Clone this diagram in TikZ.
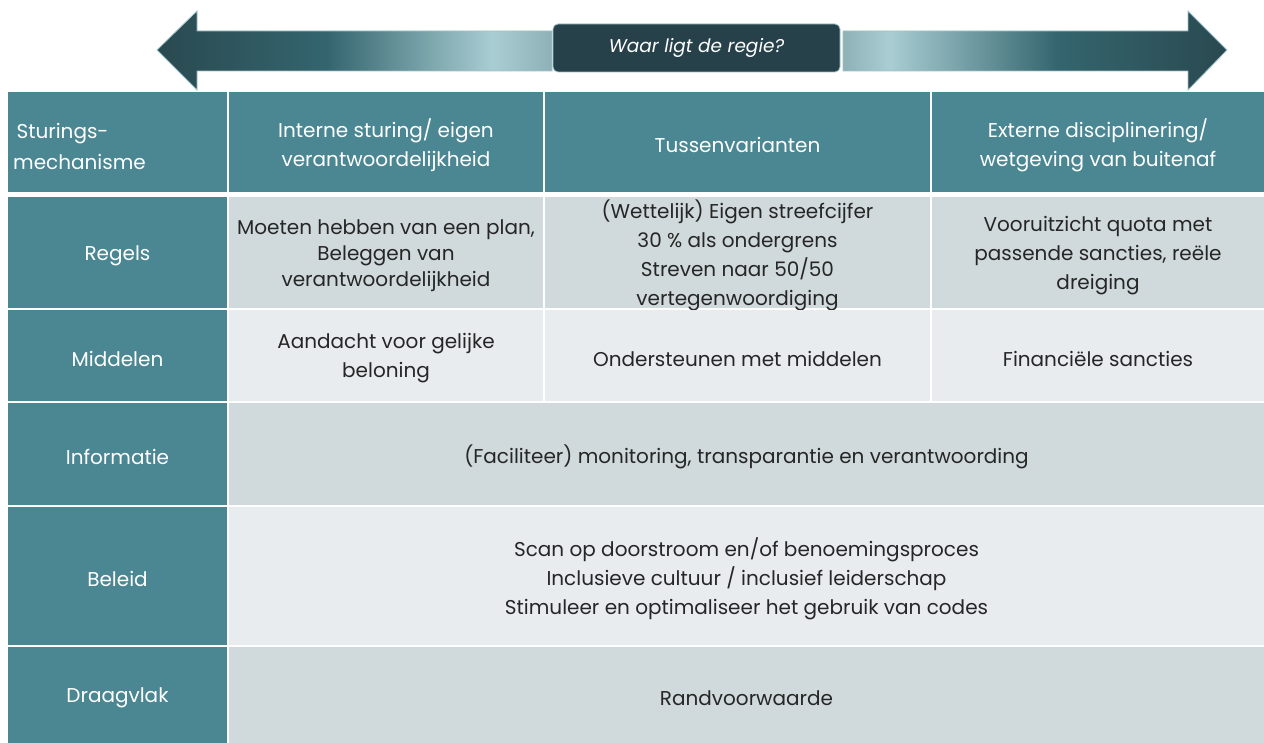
\documentclass[tikz,border=0pt]{standalone}
\usepackage{fontspec}
\setmainfont{Poppins}
\definecolor{hdr}{HTML}{4B8693}
\definecolor{rowA}{HTML}{D0D9DC}
\definecolor{rowB}{HTML}{E8ECEE}
\definecolor{txt}{HTML}{262626}
\definecolor{boxc}{HTML}{27414B}
\definecolor{adark}{HTML}{2A4950}
\definecolor{amid}{HTML}{34656E}
\definecolor{alight}{HTML}{A9CDD3}
\definecolor{aedge}{HTML}{8DB1B7}
\definecolor{aline}{HTML}{9FC3C9}
\pgfdeclarehorizontalshading{arrL}{100bp}{color(0bp)=(adark); color(25bp)=(adark); color(46.5bp)=(amid); color(67.5bp)=(alight); color(75bp)=(aedge); color(100bp)=(aedge)}
\pgfdeclarehorizontalshading{arrR}{100bp}{color(0bp)=(aedge); color(25bp)=(aedge); color(31bp)=(alight); color(53bp)=(amid); color(75bp)=(adark); color(100bp)=(adark)}
\tikzset{
  cellbase/.style={anchor=north west, inner sep=0pt, outer sep=0pt},
  hcell/.style={cellbase, fill=hdr},
  acell/.style={cellbase, fill=rowA},
  bcell/.style={cellbase, fill=rowB},
  wtext/.style={inner sep=0pt, align=center, text=white, font=\fontsize{20}{29}\selectfont, yshift=-3pt},
  dtext/.style={inner sep=0pt, align=center, text=txt, font=\fontsize{20}{29}\selectfont, yshift=-3pt},
  arrowbody/.style={draw=aline, line width=0.8pt},
}
\begin{document}
\begin{tikzpicture}[x=1pt,y=-1pt]
\useasboundingbox[fill=white] (0,0) rectangle (1264,743);
% arrows
\path[arrowbody, shading=arrL] (157,50) -- (197,11) -- (197,31) -- (552,31) -- (552,71) -- (197,71) -- (197,90) -- cycle;
\path[arrowbody, shading=arrR] (1227,50) -- (1188,11) -- (1188,31) -- (843,31) -- (843,71) -- (1188,71) -- (1188,90) -- cycle;
\node[draw=aline, line width=0.8pt, fill=boxc, rounded corners=5pt, minimum width=287pt, minimum height=48pt, inner sep=0pt, text=white, font=\fontsize{18.5}{22}\selectfont\itshape] (q) at (696.5,48) {Waar ligt de regie?};
% header row
\node[hcell, minimum width=219pt, minimum height=100pt] (h1) at (8,92) {};
\node[anchor=west, text=white, font=\fontsize{20}{31}\selectfont, align=left, inner sep=0pt] (h1t) at (13,146) {\,Sturings-\\mechanisme};
\node[hcell, minimum width=314pt, minimum height=100pt] (h2) at (229,92) {};
\node[wtext] (h2t) at (h2.center) {Interne sturing/ eigen\\verantwoordelijkheid};
\node[hcell, minimum width=385pt, minimum height=100pt] (h3) at (545,92) {};
\node[wtext] (h3t) at (h3.center) {Tussenvarianten};
\node[hcell, minimum width=332pt, minimum height=100pt] (h4) at (932,92) {};
\node[wtext] (h4t) at (h4.center) {Externe disciplinering/\\wetgeving van buitenaf};
% Regels
\node[hcell, minimum width=219pt, minimum height=111pt] (r1) at (8,197) {};
\node[wtext] (r1t) at (r1.center) {Regels};
\node[acell, minimum width=314pt, minimum height=111pt] (r2) at (229,197) {};
\node[dtext, font=\fontsize{20}{26}\selectfont] (r2t) at (r2.center) {Moeten hebben van een plan,\\Beleggen van\\verantwoordelijkheid};
\node[acell, minimum width=385pt, minimum height=111pt] (r3) at (545,197) {};
\node[dtext] (r3t) at (r3.center) {(Wettelijk) Eigen streefcijfer\\30 \% als ondergrens\\Streven naar 50/50\\vertegenwoordiging};
\node[acell, minimum width=332pt, minimum height=111pt] (r4) at (932,197) {};
\node[dtext] (r4t) at (r4.center) {Vooruitzicht quota met\\passende sancties, reële\\dreiging};
% Middelen
\node[hcell, minimum width=219pt, minimum height=91pt] (m1) at (8,310) {};
\node[wtext] (m1t) at (m1.center) {Middelen};
\node[bcell, minimum width=314pt, minimum height=91pt] (m2) at (229,310) {};
\node[dtext] (m2t) at (m2.center) {Aandacht voor gelijke\\beloning};
\node[bcell, minimum width=385pt, minimum height=91pt] (m3) at (545,310) {};
\node[dtext] (m3t) at (m3.center) {Ondersteunen met middelen};
\node[bcell, minimum width=332pt, minimum height=91pt] (m4) at (932,310) {};
\node[dtext] (m4t) at (m4.center) {Financiële sancties};
% Informatie
\node[hcell, minimum width=219pt, minimum height=102pt] (i1) at (8,403) {};
\node[wtext] (i1t) at (i1.center) {Informatie};
\node[acell, minimum width=1035pt, minimum height=102pt] (i2) at (229,403) {};
\node[dtext] (i2t) at (i2.center) {(Faciliteer) monitoring, transparantie en verantwoording};
% Beleid
\node[hcell, minimum width=219pt, minimum height=138pt] (b1) at (8,507) {};
\node[wtext] (b1t) at (b1.center) {Beleid};
\node[bcell, minimum width=1035pt, minimum height=138pt] (b2) at (229,507) {};
\node[dtext] (b2t) at (b2.center) {Scan op doorstroom en/of benoemingsproces\\Inclusieve cultuur / inclusief leiderschap\\Stimuleer en optimaliseer het gebruik van codes};
% Draagvlak
\node[hcell, minimum width=219pt, minimum height=96pt] (d1) at (8,647) {};
\node[wtext] (d1t) at (d1.center) {Draagvlak};
\node[acell, minimum width=1035pt, minimum height=96pt] (d2) at (229,647) {};
\node[dtext] (d2t) at (d2.center) {Randvoorwaarde};
\end{tikzpicture}
\end{document}
